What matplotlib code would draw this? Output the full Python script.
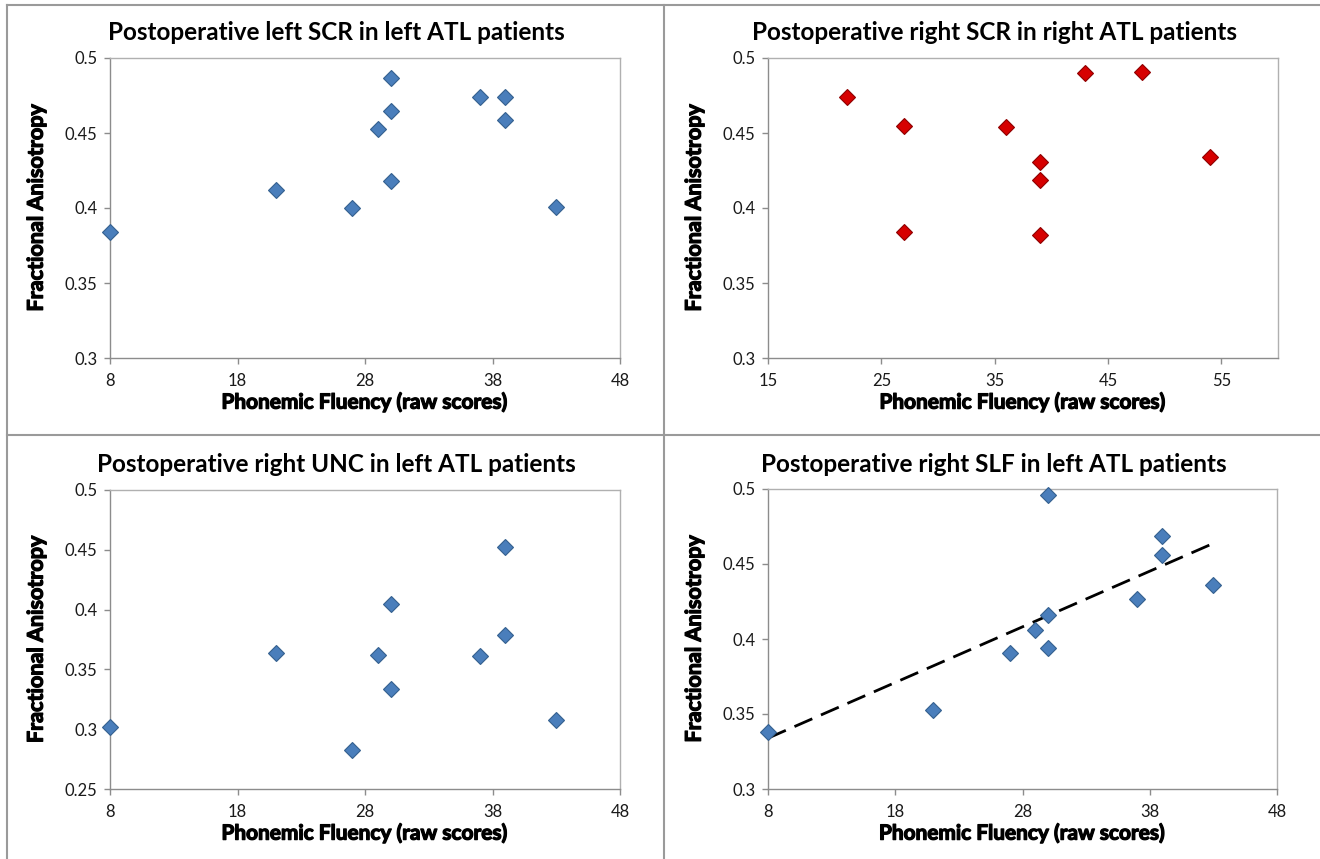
"""Four FA-vs-phonemic-fluency scatter panels (postoperative tracts), Excel-style grid."""
import matplotlib
matplotlib.use("Agg")
import matplotlib.pyplot as plt
import matplotlib.patheffects as pe
from matplotlib.lines import Line2D
import numpy as np

plt.rcParams["font.family"] = ["Lato", "DejaVu Sans"]

# --- data ---
scr_left_x = [8, 21, 27, 29, 30, 30, 30, 37, 39, 39, 43]
scr_left_y = [0.384, 0.412, 0.400, 0.453, 0.487, 0.465, 0.418, 0.474, 0.474, 0.459, 0.401]

scr_right_x = [22, 27, 27, 36, 39, 39, 39, 43, 48, 54]
scr_right_y = [0.474, 0.455, 0.384, 0.454, 0.431, 0.419, 0.382, 0.490, 0.491, 0.434]

unc_x = [8, 21, 27, 29, 30, 30, 37, 39, 39, 43]
unc_y = [0.302, 0.364, 0.283, 0.362, 0.405, 0.334, 0.361, 0.452, 0.379, 0.308]

slf_x = [8, 21, 27, 29, 30, 30, 30, 37, 39, 39, 43]
slf_y = [0.338, 0.353, 0.391, 0.406, 0.496, 0.416, 0.394, 0.427, 0.469, 0.456, 0.436]

titles = ["Postoperative left SCR in left ATL patients",
          "Postoperative right SCR in right ATL patients",
          "Postoperative right UNC in left ATL patients",
          "Postoperative right SLF in left ATL patients"]
xlabel = "Phonemic Fluency (raw scores)"
ylabel = "Fractional Anisotropy"

xticks_a = [8, 18, 28, 38, 48]
xticks_b = [15, 25, 35, 45, 55]
yticks_a = [0.3, 0.35, 0.4, 0.45, 0.5]
yticks_b = [0.25, 0.3, 0.35, 0.4, 0.45, 0.5]

BLUE, BLUE_EDGE = "#4A7EBB", "#35608F"
RED, RED_EDGE = "#D60000", "#8E0000"
W, H = 1320, 859
heavy = [pe.withStroke(linewidth=0.9, foreground="black")]


def fmt(v):
    return f"{v:g}"


def panel(rect, x, y, xlim, xticks, ylim, yticks, fc, ec, title, title_x, trend=False):
    l, t, r, b = rect
    ax = fig.add_axes([l / W, 1 - b / H, (r - l) / W, (b - t) / H])
    ax.plot(x, y, ls="none", marker="D", ms=8.6, mfc=fc, mec=ec, mew=0.8,
            zorder=3, clip_on=False)
    if trend:
        k, c = np.polyfit(x, y, 1)
        xs = np.array([min(x), max(x)])
        ln, = ax.plot(xs, k * xs + c, color="black", lw=2.0, zorder=2)
        ln.set_dashes([7.0, 3.4])
    ax.set_xlim(*xlim)
    ax.set_ylim(*ylim)
    ax.set_xticks(xticks)
    ax.set_xticklabels([fmt(v) for v in xticks])
    ax.set_yticks(yticks)
    ax.set_yticklabels([fmt(v) for v in yticks])
    for s in ax.spines.values():
        s.set_color("#B0B0B0")
        s.set_linewidth(1.0)
    ax.spines["left"].set_color("#8C8C8C")
    ax.spines["bottom"].set_color("#8C8C8C")
    ax.tick_params(length=4, width=1, color="#8C8C8C", labelsize=12,
                   labelcolor="#1a1a1a", pad=5)
    ax.tick_params(axis="x", pad=7)
    ax.set_xlabel(xlabel, fontsize=15, fontweight="bold", labelpad=2,
                  path_effects=heavy)
    ax.set_ylabel(ylabel, fontsize=15.5, fontweight="bold", labelpad=13,
                  path_effects=heavy)
    fig.text(title_x / W, 1 - (t - 25) / H, title, ha="center", va="center",
             fontsize=17.5, fontweight="bold")
    return ax


fig = plt.figure(figsize=(W / 100, H / 100), dpi=100)

panel((110, 58, 620, 358), scr_left_x, scr_left_y, (8, 48), xticks_a,
      (0.3, 0.5), yticks_a, BLUE, BLUE_EDGE, titles[0], 336)
panel((768, 58, 1278, 358), scr_right_x, scr_right_y, (15, 60), xticks_b,
      (0.3, 0.5), yticks_a, RED, RED_EDGE, titles[1], 994)
panel((110, 490, 620, 789), unc_x, unc_y, (8, 48), xticks_a,
      (0.25, 0.5), yticks_b, BLUE, BLUE_EDGE, titles[2], 336)
panel((768, 489, 1277, 789), slf_x, slf_y, (8, 48), xticks_a,
      (0.3, 0.5), yticks_a, BLUE, BLUE_EDGE, titles[3], 994, trend=True)

# panel frame lines
grey = "#9A9A9A"
fig.add_artist(Line2D([7 / W, 1], [1 - 5 / H, 1 - 5 / H], color=grey, lw=1.5))
fig.add_artist(Line2D([7 / W, 7 / W], [0, 1 - 5 / H], color=grey, lw=1.5))
fig.add_artist(Line2D([664 / W, 664 / W], [0, 1 - 5 / H], color=grey, lw=1.5))
fig.add_artist(Line2D([7 / W, 1], [1 - 435 / H, 1 - 435 / H], color=grey, lw=1.5))

fig.savefig("out.png", dpi=100)
plt.close(fig)
